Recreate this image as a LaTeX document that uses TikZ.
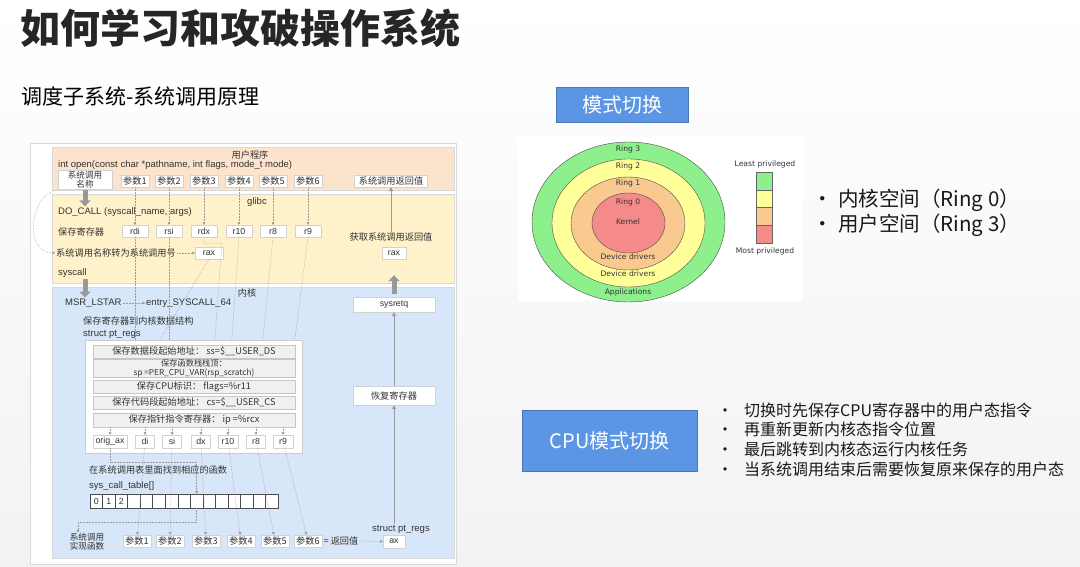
\documentclass[tikz,border=0pt]{standalone}
\usepackage{fontspec}
\setmainfont{Noto Sans CJK SC}
\newfontfamily\ringfont{DejaVu Sans}
\newfontfamily\latinfont{Liberation Sans}
\usetikzlibrary{positioning, arrows.meta, calc}

\definecolor{userbg}{HTML}{FCE4CC}
\definecolor{glibcbg}{HTML}{FFF1CA}
\definecolor{kernelbg}{HTML}{D7E6F8}
\definecolor{modeblue}{HTML}{5B95E3}
\definecolor{ringgreen}{HTML}{8DF08D}
\definecolor{ringyellow}{HTML}{FFFF99}
\definecolor{ringorange}{HTML}{F9C98F}
\definecolor{ringred}{HTML}{F58A8A}
\definecolor{linegray}{HTML}{9A9A9A}

\begin{document}
\begin{tikzpicture}[x=1pt, y=-1pt,
  tinytext/.style={font=\fontsize{9.2}{10.5}\selectfont, text=black!80, inner sep=1pt},
  latintext/.style={tinytext, font=\latinfont\fontsize{9.5}{11}\selectfont},
  regbox/.style={tinytext, draw=gray!35, fill=white, minimum height=12pt, minimum width=26pt},
  latinbox/.style={regbox, font=\latinfont\fontsize{8.8}{10}\selectfont},
  ptentry/.style={tinytext, draw=gray!45, fill=gray!12, minimum width=202pt, align=center, inner sep=0.5pt},
  cellbox/.style={latinbox, draw=black!70, line width=0.7pt, minimum width=12.55pt, minimum height=14pt, inner sep=0pt},
  dotarrow/.style={linegray, densely dotted, line width=0.5pt, -{Triangle[width=3pt,length=2.5pt]}},
  dotline/.style={linegray, densely dotted, line width=0.5pt},
  grayarrow/.style={linegray, line width=0.8pt, -{Triangle[width=4pt,length=4pt]}},
  blockarrow/.style={black!40, line width=5pt, -{Triangle[width=11pt,length=6pt]}},
  modebtn/.style={fill=modeblue, draw=modeblue!80!black, text=white, font=\fontsize{20}{24}\selectfont},
  ringlabel/.style={font=\ringfont\fontsize{7.6}{9}\selectfont, text=black!80, inner sep=0.5pt},
]
\useasboundingbox (0,0) rectangle (1080,567);
\shade[top color=white, bottom color=gray!10] (0,0) rectangle (1080,567);

% titles
\node[font=\fontsize{40}{48}\selectfont\bfseries, text=black!85, anchor=west] (title) at (17,28) {如何学习和攻破操作系统};
\node[font=\fontsize{21}{25}\selectfont, anchor=west] (subtitle) at (18,97) {调度子系统-系统调用原理};

% system call diagram
\draw[gray!30, fill=white] (30,143) rectangle (456,564);
\draw[gray!30, fill=userbg] (52,147) rectangle (454,190);
\draw[gray!30, fill=glibcbg] (52,194) rectangle (454,283);
\draw[gray!30, fill=kernelbg] (52,287) rectangle (454,558);

% user program
\node[tinytext] (userlbl) at (250,155) {用户程序};
\node[latintext, anchor=west] (openfn) at (57,165) {int open(const char *pathname, int flags, mode\_t mode)};
\node[regbox, minimum width=54pt, minimum height=15pt, align=center, font=\fontsize{8.6}{9}\selectfont] (sname) at (85,180) {系统调用\\名称};
\foreach \x [count=\i] in {135,169,204,239,273,308}
  \node[regbox, minimum width=28pt] (p\i) at (\x,181) {参数\i};
\node[regbox, minimum width=73pt] (retval) at (391,181) {系统调用返回值};

% glibc
\node[latintext] (glibclbl) at (257,202) {glibc};
\node[latintext, anchor=west] (docall) at (57,212) {DO\_CALL (syscall\_name, args)};
\node[tinytext, anchor=west] (savereg) at (57,232) {保存寄存器};
\foreach \reg/\x in {rdi/135, rsi/169, rdx/204, r10/239, r8/273, r9/308}
  \node[latinbox] (\reg) at (\x,231) {\reg};
\node[tinytext] (getret) at (391,237) {获取系统调用返回值};
\node[tinytext, anchor=west] (conv) at (55,253) {系统调用名称转为系统调用号};
\node[latinbox, minimum width=28pt] (raxA) at (209,253) {rax};
\node[latinbox, minimum width=24pt] (raxB) at (394,253) {rax};
\node[latintext, anchor=west] (syscall) at (57,273) {syscall};

% kernel
\node[tinytext] (kernlbl) at (247,293) {内核};
\node[latintext, anchor=west] (msr) at (64,303) {MSR\_LSTAR};
\node[latintext, anchor=west] (entry) at (145,303) {entry\_SYSCALL\_64};
\node[tinytext, anchor=west] (savek) at (82,321) {保存寄存器到内核数据结构};
\node[latintext, anchor=west] (ptlbl) at (82,334) {struct pt\_regs};
\node[latinbox, minimum width=82pt, minimum height=15pt] (sysretq) at (394,304.5) {sysretq};
\node[regbox, minimum width=82pt, minimum height=19pt] (restore) at (394,395.5) {恢复寄存器};
\node[draw=gray!40, fill=white, minimum width=217pt, minimum height=113pt] (ptregs) at (193.5,396.5) {};
\node[ptentry, minimum height=13pt] (ss) at (194,351.5) {保存数据段起始地址： ss=\$\_\_USER\_DS};
\node[ptentry, minimum height=17pt, font=\fontsize{8.2}{8.4}\selectfont] (sp) at (194,368.5) {保存函数栈栈顶：\\ sp =PER\_CPU\_VAR(rsp\_scratch)};
\node[ptentry, minimum height=13pt] (flags) at (194,386.5) {保存CPU标识： flags=\%r11};
\node[ptentry, minimum height=13pt] (cs) at (194,402.5) {保存代码段起始地址： cs=\$\_\_USER\_CS};
\node[ptentry, minimum height=14pt] (ip) at (194,420) {保存指针指令寄存器： ip =\%rcx};
\foreach \reg/\x/\w/\t in {kax/110/34/orig\_ax, kdi/145/19/di, ksi/172/19/si, kdx/201/19/dx, kr10/228/20/r10, kr8/256/19/r8, kr9/283/20/r9}
  \node[latinbox, minimum width=\w pt, minimum height=13pt] (\reg) at (\x,441.5) {\t};

\node[tinytext, anchor=west] (findfn) at (88,470) {在系统调用表里面找到相应的函数};
\node[latintext, anchor=west] (tbllbl) at (88,486) {sys\_call\_table[]};
\foreach \i in {0,...,14}
  \node[cellbox] (cell\i) at ({96.3+12.55*\i},501) {\ifnum\i<3 \i\fi};

\node[tinytext, align=left, font=\fontsize{8.6}{9}\selectfont] (impl) at (87,542) {系统调用\\实现函数};
\foreach \x [count=\i] in {137,170,206,241,275,308}
  \node[regbox, minimum width=28pt] (q\i) at (\x,541) {参数\i};
\node[tinytext] (eqret) at (341,541) {= 返回值};
\node[latinbox, minimum width=22pt, minimum height=13pt] (ax) at (394,541.5) {ax};
\node[latintext] (ptlbl2) at (401,529) {struct pt\_regs};

% connectors
\draw[blockarrow] (sname.south) -- (sname.south |- docall.north);
\foreach \i/\reg in {1/rdi, 2/rsi, 3/rdx, 4/r10, 5/r8, 6/r9}
  \draw[dotarrow] (p\i) -- (\reg);
\draw[grayarrow] (getret) -- (retval);
\draw[dotarrow] (sname.south west) .. controls (28,195) and (24,253) .. (conv.west);
\draw[dotarrow] (conv) -- (raxA);
\draw[blockarrow] (sname.south |- syscall.south) -- (sname.south |- msr.north);
\draw[dotarrow] (msr) -- (entry);
\draw[blockarrow, shorten >=16pt, shorten <=3pt] (sysretq.north) -- (raxB.south);
\draw[grayarrow] (restore) -- (sysretq);
\draw[grayarrow] (restore.south |- ptlbl2.north) -- (restore.south);

\draw[dotline] (raxA.south) -- ($(ptregs.north west)+(75,0)$);
\draw[dotline] (rdi) -- (rdi |- ptregs.north);
\draw[dotline] (rsi) -- (rsi |- ptregs.north);
\draw[dotline] (rdx.south) |- ++(18,6) -- ($(ptregs.north west)+(130,0)$);
\draw[dotline] (r10.south) -- ($(ptregs.north west)+(147,0)$);
\draw[dotline] (r8.south) -- ($(ptregs.north west)+(178,0)$);
\draw[dotline] (r9.south) -- ($(ptregs.north west)+(210,0)$);

\foreach \reg in {kax, kdi, ksi, kdx, kr10, kr8, kr9}
  \draw[dotarrow] (ip.south -| \reg.north) -- (\reg.north);
\draw[dotarrow] (kax.south) |- ($(cell8.north)+(0,-31)$) -- (cell8.north);
\coordinate (tbldown) at ($(cell8.south)+(0,14)$);
\draw[dotarrow] (cell8.south) -- (tbldown) -| ([xshift=-9pt]impl.north);
\foreach \a/\b in {kdi/q1, ksi/q2, kdx/q3, kr10/q4, kr8/q5, kr9/q6}
  \draw[dotarrow] (\a) -- (\b);
\draw[dotarrow] (eqret) -- (ax);

% protection rings
\fill[white] (518,137) rectangle (803,301);
\draw[black!70, fill=ringgreen] (628.5,222) ellipse [x radius=96.5, y radius=80];
\draw[black!70, fill=ringyellow] (628.5,223) ellipse [x radius=76.5, y radius=64];
\draw[black!70, fill=ringorange] (628,223.5) ellipse [x radius=57, y radius=46.5];
\draw[black!70, fill=ringred] (628.5,223) ellipse [x radius=36.5, y radius=30];
\node[ringlabel] (ring3) at (628,149) {Ring 3};
\node[ringlabel] (ring2) at (628,166) {Ring 2};
\node[ringlabel] (ring1) at (628,183) {Ring 1};
\node[ringlabel] (ring0) at (628,202) {Ring 0};
\node[ringlabel] (kernel) at (628,222) {Kernel};
\node[ringlabel] (drivers1) at (628,257) {Device drivers};
\node[ringlabel] (drivers2) at (628,274) {Device drivers};
\node[ringlabel] (apps) at (628,292) {Applications};
\node[ringlabel] (leastlbl) at (765,164) {Least privileged};
\foreach \c [count=\i] in {ringgreen, ringyellow, ringorange, ringred}
  \draw[black!60, fill=\c] (756,{172+17.75*(\i-1)}) rectangle ++(16,17.75);
\node[ringlabel] (mostlbl) at (765,251) {Most privileged};

% mode switch
\node[modebtn, minimum width=132pt, minimum height=35pt] (modesw) at (622,104.5) {模式切换};
\node[modebtn, minimum width=175pt, minimum height=61pt] (cpusw) at (609.5,440.5) {CPU模式切换};
\node[anchor=west, font=\fontsize{20.5}{25}\selectfont, text=black!90, align=left, inner sep=0pt] (ringlist) at (812,212.5)
  {\makebox[26pt][l]{•}内核空间（Ring 0）\\\makebox[26pt][l]{•}用户空间（Ring 3）};
\node[anchor=west, font=\fontsize{16}{19.7}\selectfont, text=black!90, align=left, inner sep=0pt] (cpulist) at (717,439.5)
  {\makebox[27pt][l]{•}切换时先保存CPU寄存器中的用户态指令\\
   \makebox[27pt][l]{•}再重新更新内核态指令位置\\
   \makebox[27pt][l]{•}最后跳转到内核态运行内核任务\\
   \makebox[27pt][l]{•}当系统调用结束后需要恢复原来保存的用户态};
\end{tikzpicture}
\end{document}
